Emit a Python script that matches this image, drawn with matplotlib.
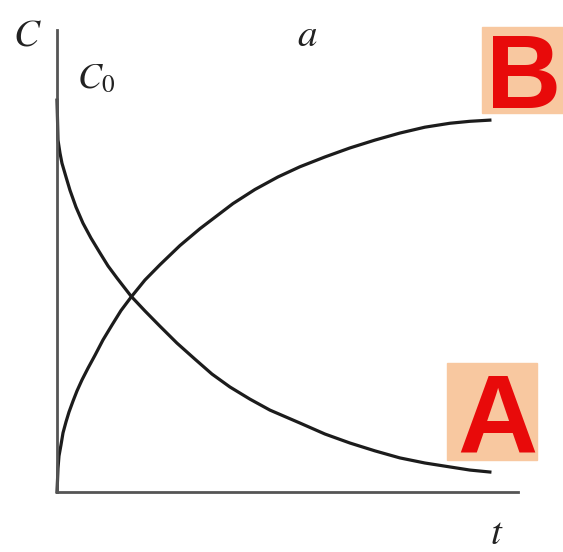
import matplotlib
matplotlib.use("Agg")
import matplotlib.pyplot as plt
from matplotlib.patches import Rectangle

plt.rcParams['mathtext.fontset'] = 'stix'

# concentration of A (reactant) and B (product) over time, C / C0
t_a = [0.000, 0.012, 0.023, 0.069, 0.115, 0.208, 0.300, 0.439, 0.600, 0.785, 0.993,
       1.178, 1.386, 1.547, 1.709, 2.032, 2.379, 2.771, 3.187, 3.580, 3.995, 4.457,
       4.919, 5.612, 6.189, 6.767, 7.344, 7.921, 8.499, 9.076, 9.538, 10.000]
c_a = [1.000, 0.949, 0.898, 0.865, 0.839, 0.804, 0.770, 0.727, 0.686, 0.648, 0.610,
       0.577, 0.546, 0.523, 0.500, 0.462, 0.423, 0.380, 0.339, 0.301, 0.268, 0.237,
       0.209, 0.176, 0.148, 0.125, 0.105, 0.087, 0.074, 0.064, 0.056, 0.051]

t_b = [0.000, 0.012, 0.023, 0.046, 0.092, 0.139, 0.208, 0.277, 0.370, 0.462, 0.577,
       0.716, 0.878, 1.062, 1.270, 1.478, 1.709, 2.032, 2.379, 2.841, 3.303, 3.672,
       4.065, 4.573, 5.104, 5.612, 6.189, 6.767, 7.344, 7.921, 8.499, 9.076, 9.538, 10.000]
c_b = [0.000, 0.031, 0.061, 0.092, 0.120, 0.151, 0.179, 0.204, 0.232, 0.258, 0.286,
       0.316, 0.349, 0.388, 0.426, 0.463, 0.497, 0.541, 0.580, 0.629, 0.672, 0.703,
       0.736, 0.772, 0.804, 0.830, 0.855, 0.878, 0.898, 0.916, 0.931, 0.941, 0.946, 0.949]

W, H = 563, 552
fig = plt.figure(figsize=(W / 100, H / 100), dpi=100)


def fx(px):
    return px / W


def fy(py):
    return 1 - py / H


ax = fig.add_axes([fx(57), fy(492), (518 - 57) / W, (492 - 30) / H])
ax.set_xlim(0, 10.65)
ax.set_ylim(0, 1.179)
ax.plot(t_a, c_a, color='#1c1c1c', lw=2.3, clip_on=False, solid_joinstyle='round')
ax.plot(t_b, c_b, color='#1c1c1c', lw=2.3, clip_on=False, solid_joinstyle='round')

for side in ['top', 'right']:
    ax.spines[side].set_visible(False)
for side in ['left', 'bottom']:
    ax.spines[side].set_linewidth(2)
    ax.spines[side].set_color('#555555')
ax.set_xticks([])
ax.set_yticks([])

# axis names and annotations
fig.text(fx(27), fy(45), '$C$', fontsize=28, ha='center', va='baseline', color='#222222')
fig.text(fx(77), fy(88), '$C_0$', fontsize=26, ha='left', va='baseline', color='#222222')
fig.text(fx(307), fy(46), '$a$', fontsize=28, ha='center', va='baseline', color='#222222')
fig.text(fx(497), fy(533), '$t$', fontsize=28, ha='center', va='center', color='#222222')

# product / reactant tags
peach = '#f8c8a0'
fig.patches.append(Rectangle((fx(482), fy(113)), (563 - 482) / W, (113 - 27) / H,
                             transform=fig.transFigure, color=peach, zorder=1))
fig.patches.append(Rectangle((fx(447), fy(460)), (537 - 447) / W, (460 - 363) / H,
                             transform=fig.transFigure, color=peach, zorder=1))
fig.text(fx(524), fy(108), 'B', fontsize=75, fontweight='bold', family='Liberation Sans',
         color='#e80a0a', ha='center', va='baseline', zorder=2)
fig.text(fx(497), fy(452), 'A', fontsize=80, fontweight='bold', family='Liberation Sans',
         color='#e80a0a', ha='center', va='baseline', zorder=2)

fig.savefig('out.png', dpi=100, facecolor='white')
